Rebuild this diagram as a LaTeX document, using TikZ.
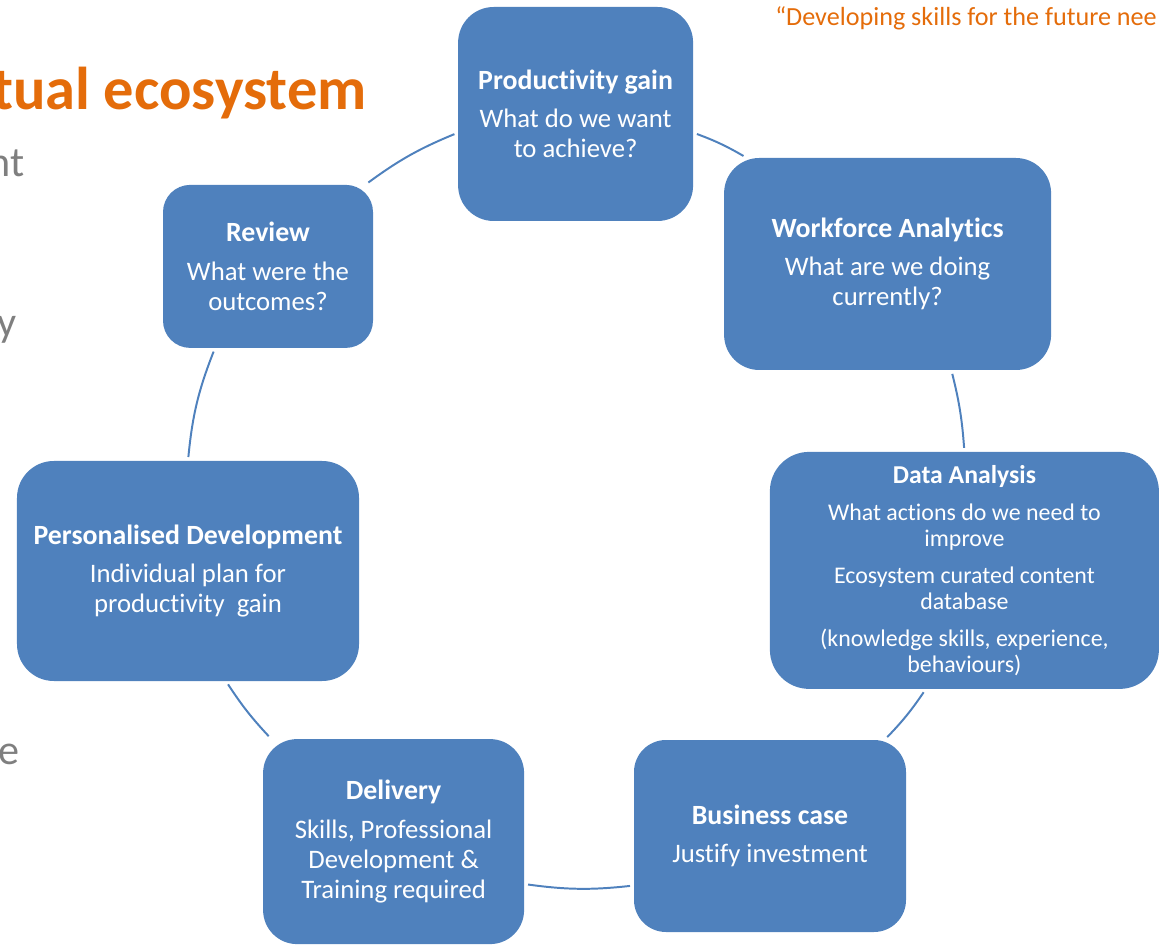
\documentclass[tikz,border=0pt]{standalone}
\usepackage{fontspec}
\setmainfont{Carlito}[Ligatures=NoCommon]
\definecolor{cycleblue}{RGB}{79,129,189}
\definecolor{headorange}{RGB}{228,108,10}
\definecolor{sidegrey}{RGB}{127,127,127}
\newcommand{\stagehead}[1]{{\fontsize{19.8}{21.3}\selectfont\bfseries #1}}

\begin{document}
\begin{tikzpicture}
\useasboundingbox (0,0) rectangle (29.025,-23.65);
\clip (0,0) rectangle (29.025,-23.65);

% slide text running off the edges
\begin{scope}[every node/.style={inner sep=0}]
    \node[anchor=base east, headorange, font=\fontsize{43}{43}\selectfont\bfseries] (heading) at (9.17,-2.75) {tual ecosystem};
    \node[anchor=base west, headorange, font=\fontsize{18.6}{18.6}\selectfont] (quote) at (19.375,-0.64) {“Developing skills for the future nee};
    \node[anchor=base east, sidegrey, font=\fontsize{30}{30}\selectfont] (bulletA) at (0.625,-4.425) {nt};
    \node[anchor=base east, sidegrey, font=\fontsize{30}{30}\selectfont] (bulletB) at (0.43,-8.425) {y};
    \node[anchor=base east, sidegrey, font=\fontsize{30}{30}\selectfont] (bulletC) at (0.5,-19.1) {te};
\end{scope}

\begin{scope}[every node/.style={rectangle, fill=cycleblue, text=white, align=center,
                                 inner sep=0, outer sep=0,
                                 font=\fontsize{19}{21.3}\selectfont}]
    \node[minimum width=5.875cm, minimum height=5.35cm, rounded corners=0.89cm] (PG) at (14.39,-2.85)
        {\stagehead{Productivity gain}\\[6pt] What do we want\\ to achieve?};
    \node[minimum width=8.175cm, minimum height=5.3cm, rounded corners=0.88cm] (WA) at (22.19,-6.6)
        {\stagehead{Workforce Analytics}\\[6pt] What are we doing\\ currently?};
    \node[minimum width=9.725cm, minimum height=5.925cm, rounded corners=0.98cm,
          font=\fontsize{17}{18.5}\selectfont] (DA) at (24.11,-14.26)
        {{\fontsize{18.3}{18.5}\selectfont\bfseries Data Analysis}\\[7.8pt] What actions do we need to\\ improve\\[7.8pt]
         Ecosystem curated content\\ database\\[7.8pt] (knowledge skills, experience,\\ behaviours)};
    \node[minimum width=6.8cm, minimum height=4.8cm, rounded corners=0.8cm] (BC) at (19.25,-20.9)
        {\stagehead{Business case}\\[6pt] Justify investment};
    \node[minimum width=6.525cm, minimum height=5.125cm, rounded corners=0.85cm] (DL) at (9.84,-21.04)
        {\stagehead{Delivery}\\[6pt] Skills, Professional\\ Development \&\\ Training required};
    \node[minimum width=8.55cm, minimum height=5.5cm, rounded corners=0.92cm] (PD) at (4.7,-14.275)
        {\stagehead{Personalised Development}\\[6pt] Individual plan for\\ productivity~ gain};
    \node[minimum width=5.25cm, minimum height=4.075cm, rounded corners=0.68cm] (RV) at (6.7,-6.66)
        {\stagehead{Review}\\[6pt] What were the\\ outcomes?};
\end{scope}

\begin{scope}[every edge/.style={draw=cycleblue, line width=1.4pt,
                                 shorten <=0.1cm, shorten >=0.1cm}]
    % clockwise round the cycle
    \path (PG.-9)     edge[bend left=5] (WA.143);
    \path (WA.-59.5)  edge[bend left=5] (DA.90.7);
    \path (DA.-108.4) edge[bend left=5] (BC.40.6);
    \path (BC.-160.6) edge[bend left=7] (DL.-18.4);
    \path (DL.140.3)  edge[bend left=5] (PD.-71.4);
    \path (PD.90)     edge[bend left=8] (RV.-123.5);
    \path (RV.40.3)   edge[bend left=7] (PG.-171.3);
\end{scope}
\end{tikzpicture}
\end{document}
